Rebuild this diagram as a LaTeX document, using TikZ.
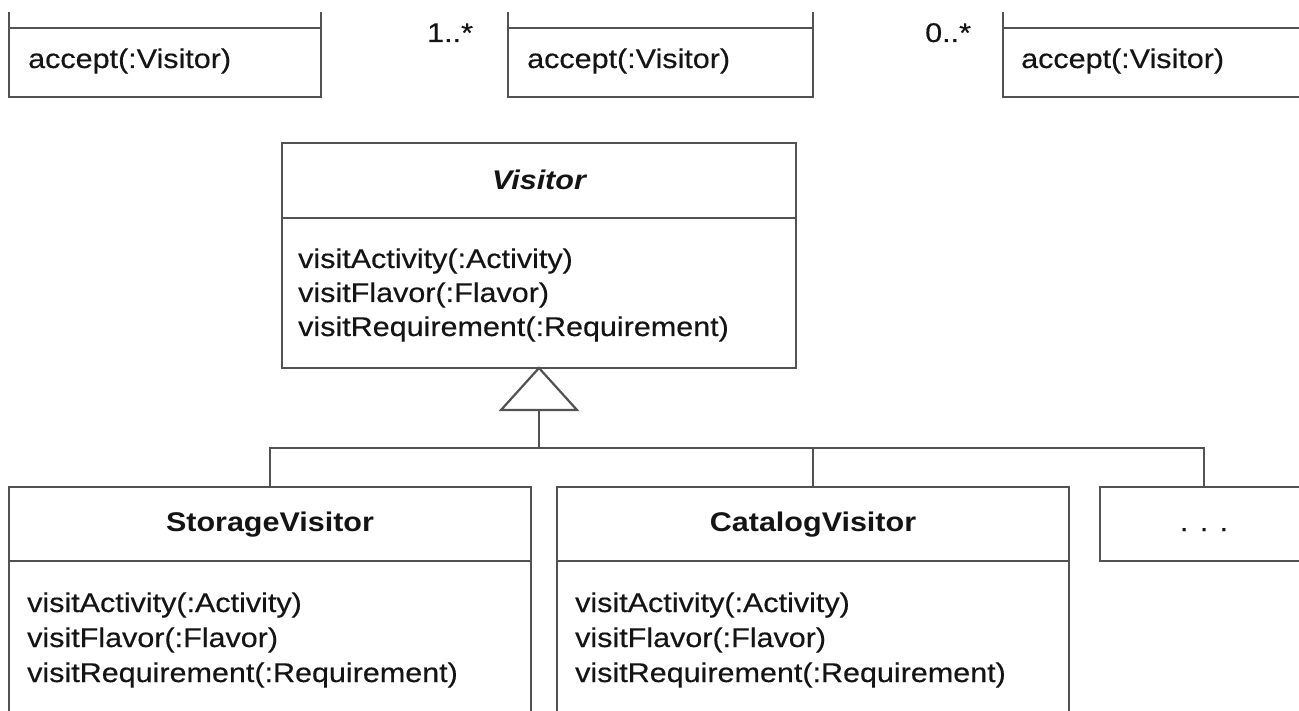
\documentclass[tikz,border=0pt]{standalone}
\usepackage{fontspec}
\usetikzlibrary{calc}
\setmainfont{Liberation Sans}[FakeStretch=1.13, UprightFeatures={FakeBold=0.4}]
\begin{document}
\begin{tikzpicture}[x=1pt,y=-1pt,
  line/.style={draw=black!68, line width=2.2pt},
  box/.style={line, anchor=north west, inner sep=0pt, outer sep=0pt, rectangle},
  txt/.style={anchor=base west, inner sep=0pt, text=black!92},
  ttl/.style={anchor=base, inner sep=0pt, font=\bfseries, text=black!92}]
\fontsize{27}{34}\selectfont
\useasboundingbox (0,0) rectangle (1299,711);
\clip (0,0) rectangle (1299,711);

% top (partly visible) classes
\draw[line] (9,12) |- (321,97) -- (321,12);
\draw[line] (9,28) -- (321,28);
\node[txt] (t1m) at (28,68) {accept(:Visitor)};

\draw[line] (508,12) |- (813,97) -- (813,12);
\draw[line] (508,28) -- (813,28);
\node[txt] (t2m) at (527,68) {accept(:Visitor)};

\draw[line] (1003,12) |- (1310,97);
\draw[line] (1003,28) -- (1310,28);
\node[txt] (t3m) at (1021,68) {accept(:Visitor)};

\node[txt] (m1) at (427,42) {1..*};
\node[txt] (m2) at (925,42) {0..*};

% Visitor
\node[box, minimum width=514pt, minimum height=225pt] (visitor) at (282,143) {};
\draw[line] (282,218) -- (796,218);
\node[ttl, font=\bfseries\itshape] (vt) at (539,190) {Visitor};
\node[txt] (v1) at (298,268) {visitActivity(:Activity)};
\node[txt] (v2) at (298,302) {visitFlavor(:Flavor)};
\node[txt] (v3) at (298,336) {visitRequirement(:Requirement)};

% subclasses
\node[box, minimum width=522pt, minimum height=260pt] (storage) at (9,487) {};
\draw[line] (9,561) -- (531,561);
\node[ttl] (st) at (270,531) {StorageVisitor};
\node[txt] (s1) at (27,612) {visitActivity(:Activity)};
\node[txt] (s2) at (27,647) {visitFlavor(:Flavor)};
\node[txt] (s3) at (27,682) {visitRequirement(:Requirement)};

\node[box, minimum width=512pt, minimum height=260pt] (catalog) at (557,487) {};
\draw[line] (557,561) -- (1069,561);
\node[ttl] (ct) at (813,531) {CatalogVisitor};
\node[txt] (c1) at (575,612) {visitActivity(:Activity)};
\node[txt] (c2) at (575,647) {visitFlavor(:Flavor)};
\node[txt] (c3) at (575,682) {visitRequirement(:Requirement)};

\node[box, minimum width=208pt, minimum height=74pt] (more) at (1100,487) {};
\node[ttl, font=\normalfont] (mt) at (more.center |- 0,531) {. . .};

% generalization
\coordinate (tb) at ($(visitor.south)+(0,42)$);
\coordinate (bus) at (539,448);
\draw[line, line join=miter] (visitor.south) -- ++(-38,42) -- ++(76,0) -- cycle;
\draw[line] (tb) -- (bus);
\draw[line] (storage.north) |- (more.north |- bus) -- (more.north);
\draw[line] (catalog.north) -- (catalog.north |- bus);
\end{tikzpicture}
\end{document}
